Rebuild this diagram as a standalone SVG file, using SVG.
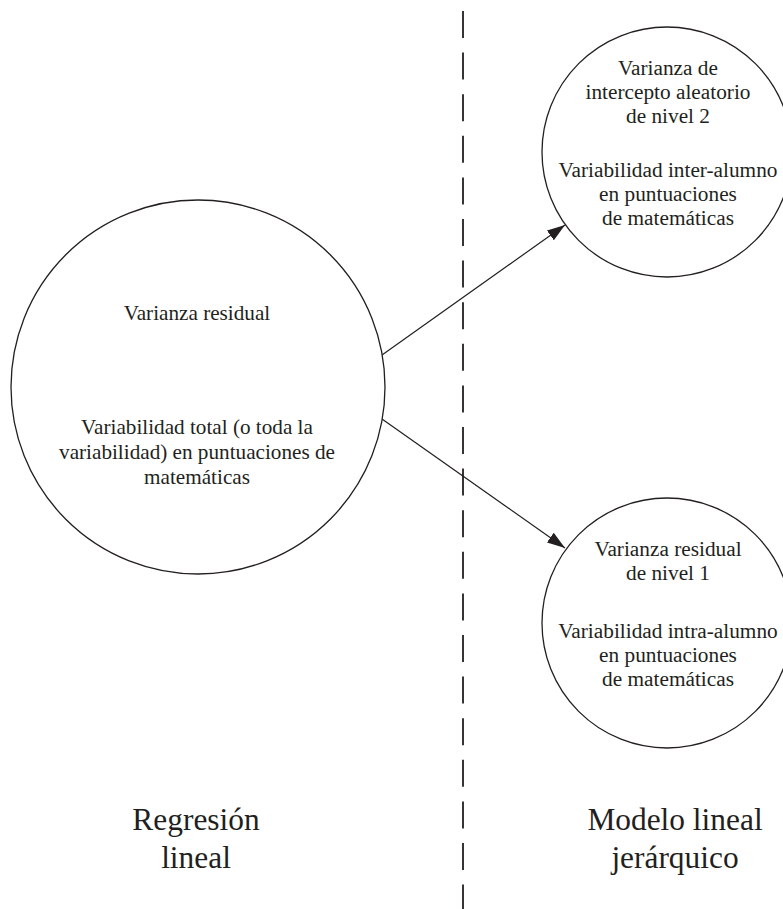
<svg xmlns="http://www.w3.org/2000/svg" width="783" height="909" viewBox="0 0 783 909" font-family="Liberation Serif, serif">
<style>
  .node { fill: #ffffff; stroke: #231f20; stroke-width: 1.3; }
  .t { fill: #231f20; text-anchor: middle; }
  .edge { stroke: #231f20; stroke-width: 1.2; fill: none; marker-end: url(#arrow); }
  .divider { stroke: #231f20; stroke-width: 1.8; stroke-dasharray: 27 14.6; }
</style>
<defs>
  <marker id="arrow" markerUnits="userSpaceOnUse" markerWidth="18" markerHeight="12" viewBox="0 0 18 12" refX="18" refY="6" orient="auto">
    <path d="M0,0 L18,6 L0,12 Z" fill="#231f20"/>
  </marker>
</defs>
<rect width="783" height="909" fill="#ffffff"/>
<g id="divider">
  <line class="divider" x1="463" y1="11" x2="463" y2="909"/>
</g>
<g id="connectors">
  <line class="edge" x1="382" y1="355" x2="565" y2="225"/>
  <line class="edge" x1="382" y1="419" x2="565" y2="548"/>
</g>
<g id="node-residual" font-family="Liberation Serif, serif" font-size="21.2">
  <circle class="node" cx="198" cy="387" r="187"/>
  <text class="t" x="197" y="320">Varianza residual</text>
  <text class="t" x="197" y="434">Variabilidad total (o toda la</text>
  <text class="t" x="197" y="459">variabilidad) en puntuaciones de</text>
  <text class="t" x="197" y="484">matemáticas</text>
</g>
<g id="node-level2" font-family="Liberation Serif, serif" font-size="21.3">
  <circle class="node" cx="667" cy="152" r="125"/>
  <text class="t" x="668" y="75">Varianza de</text>
  <text class="t" x="668" y="99">intercepto aleatorio</text>
  <text class="t" x="668" y="123">de nivel 2</text>
  <text class="t" x="668" y="177">Variabilidad inter-alumno</text>
  <text class="t" x="668" y="201">en puntuaciones</text>
  <text class="t" x="668" y="225">de matemáticas</text>
</g>
<g id="node-level1" font-family="Liberation Serif, serif" font-size="21.3">
  <circle class="node" cx="667" cy="623" r="125"/>
  <text class="t" x="668" y="556">Varianza residual</text>
  <text class="t" x="668" y="580">de nivel 1</text>
  <text class="t" x="668" y="638">Variabilidad intra-alumno</text>
  <text class="t" x="668" y="662">en puntuaciones</text>
  <text class="t" x="668" y="686">de matemáticas</text>
</g>
<g id="label-left" font-family="Liberation Serif, serif" font-size="31.4">
  <text class="t" x="196" y="830">Regresión</text>
  <text class="t" x="196" y="868">lineal</text>
</g>
<g id="label-right" font-family="Liberation Serif, serif" font-size="31.4">
  <text class="t" x="675" y="830">Modelo lineal</text>
  <text class="t" x="675" y="868">jerárquico</text>
</g>
</svg>
